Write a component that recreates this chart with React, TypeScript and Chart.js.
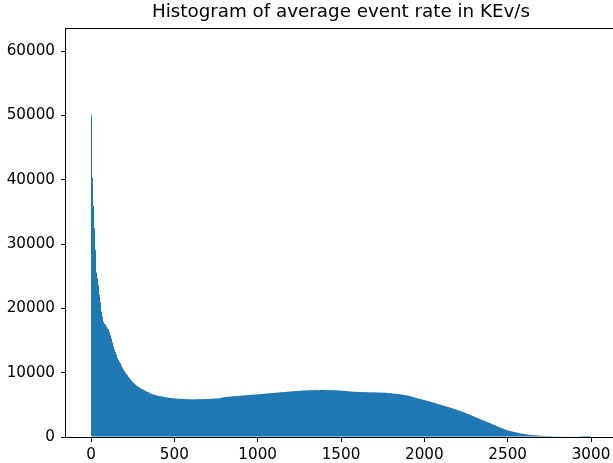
import React, { useEffect, useRef } from "react";
import { Chart, registerables } from "chart.js";

Chart.register(...registerables);

const TITLE = "Histogram of average event rate in KEv/s";
const BIN_START = 0;
const BIN_WIDTH = 6;
const X_TICK_VALUES = [0, 500, 1000, 1500, 2000, 2500, 3000];
const Y_TICK_VALUES = [0, 10000, 20000, 30000, 40000, 50000, 60000];

const counts: number[] = [
  50000, 40300, 35900, 32500, 29100, 25600, 24700, 23600, 22100, 21000,
  19500, 18700, 17900, 17600, 17500, 17200, 16900, 16700, 16300, 15800,
  15300, 14700, 14100, 13600, 13200, 12800, 12300, 12000, 11700, 11500,
  11100, 10800, 10500, 10300, 10000, 9800, 9600, 9350, 9150, 8950,
  8750, 8600, 8450, 8300, 8150, 8000, 7900, 7800, 7700, 7600,
  7500, 7420, 7350, 7250, 7180, 7100, 7020, 6950, 6880, 6750,
  6700, 6650, 6600, 6560, 6520, 6480, 6440, 6410, 6380, 6350,
  6320, 6290, 6250, 6220, 6200, 6170, 6130, 6110, 6090, 6070,
  6050, 6030, 6020, 6000, 5990, 5980, 5960, 5950, 5940, 5950,
  5930, 5900, 5940, 5910, 5880, 5920, 5860, 5900, 5870, 5850,
  5890, 5860, 5880, 5830, 5870, 5900, 5850, 5880, 5900, 5870,
  5890, 5920, 5880, 5900, 5930, 5890, 5920, 5950, 5910, 5940,
  5960, 5930, 5980, 6000, 5970, 6010, 5990, 6040, 6020, 6060,
  6100, 6150, 6180, 6200, 6230, 6220, 6260, 6240, 6280, 6300,
  6290, 6320, 6340, 6330, 6360, 6380, 6370, 6400, 6390, 6420,
  6440, 6430, 6460, 6480, 6470, 6500, 6520, 6510, 6540, 6560,
  6550, 6580, 6600, 6590, 6620, 6610, 6640, 6660, 6650, 6680,
  6700, 6690, 6720, 6740, 6730, 6760, 6780, 6770, 6800, 6820,
  6830, 6850, 6840, 6870, 6890, 6880, 6910, 6930, 6920, 6950,
  6970, 6960, 6990, 7010, 7000, 7030, 7050, 7040, 7070, 7090,
  7080, 7110, 7100, 7130, 7150, 7140, 7170, 7160, 7190, 7200,
  7210, 7190, 7230, 7250, 7220, 7260, 7240, 7280, 7250, 7270,
  7300, 7260, 7310, 7280, 7320, 7290, 7330, 7300, 7280, 7320,
  7350, 7300, 7330, 7290, 7340, 7310, 7280, 7320, 7300, 7270,
  7310, 7280, 7260, 7300, 7250, 7270, 7230, 7260, 7220, 7200,
  7230, 7190, 7160, 7180, 7140, 7120, 7150, 7100, 7080, 7060,
  7080, 7040, 7060, 7020, 7050, 7000, 7030, 6990, 7020, 6980,
  7010, 6970, 7000, 6960, 6990, 6950, 6980, 6940, 6970, 6950,
  6930, 6960, 6920, 6950, 6940, 6910, 6940, 6900, 6930, 6910,
  6890, 6920, 6880, 6900, 6860, 6880, 6840, 6850, 6810, 6800,
  6780, 6790, 6750, 6740, 6720, 6700, 6690, 6670, 6660, 6640,
  6600, 6580, 6560, 6520, 6500, 6480, 6450, 6430, 6380, 6330,
  6280, 6240, 6200, 6160, 6100, 6060, 6010, 5970, 5930, 5900,
  5860, 5820, 5780, 5740, 5700, 5660, 5620, 5580, 5530, 5490,
  5440, 5400, 5350, 5300, 5250, 5200, 5160, 5110, 5060, 5020,
  4970, 4930, 4880, 4840, 4790, 4750, 4700, 4660, 4610, 4560,
  4510, 4460, 4410, 4360, 4300, 4250, 4200, 4150, 4090, 4040,
  3980, 3920, 3860, 3800, 3740, 3680, 3620, 3560, 3490, 3420,
  3360, 3290, 3220, 3160, 3090, 3020, 2960, 2890, 2820, 2750,
  2690, 2630, 2570, 2510, 2440, 2380, 2320, 2260, 2190, 2130,
  2060, 1990, 1920, 1850, 1780, 1720, 1650, 1580, 1520, 1450,
  1390, 1330, 1270, 1210, 1160, 1100, 1050, 1000, 960, 930,
  890, 850, 810, 780, 740, 710, 670, 640, 600, 570,
  540, 510, 480, 460, 430, 410, 380, 360, 330, 310,
  300, 290, 280, 270, 260, 250, 240, 230, 210, 200,
  190, 180, 170, 165, 160, 150, 145, 140, 130, 120,
  118, 115, 112, 110, 108, 105, 103, 100, 100, 98,
  96, 95, 93, 92, 90, 88, 86, 84, 82, 80,
  78, 75, 72, 70, 66, 62, 58, 50, 30, 20,
  15, 12, 10, 8, 6, 5, 4, 3, 2, 1,
];

const X_MIN = -150;
const X_MAX = 3150;
const Y_MAX = 63450;

const FONT = "'DejaVu Sans', sans-serif";

const framePlugin = {
  id: "frame",
  afterDraw(chart: any) {
    const { ctx, chartArea } = chart;
    ctx.save();
    ctx.strokeStyle = "#000";
    ctx.lineWidth = 1;
    ctx.strokeRect(
      Math.round(chartArea.left) - 0.5,
      Math.round(chartArea.top) - 0.5,
      Math.round(chartArea.right - chartArea.left) + 1,
      Math.round(chartArea.bottom - chartArea.top) + 1
    );
    ctx.restore();
  },
};

export default function App() {
  const ref = useRef<HTMLCanvasElement | null>(null);

  useEffect(() => {
    if (!ref.current) return;
    const points = counts.map((c, i) => ({
      x: BIN_START + BIN_WIDTH * (i + 0.5),
      y: c,
    }));
    const chart = new Chart(ref.current, {
      type: "bar",
      data: {
        datasets: [
          {
            data: points as any,
            backgroundColor: "#1f77b4",
            borderWidth: 0,
            barPercentage: 1.02,
            categoryPercentage: 1,
            grouped: false,
            inflateAmount: 0,
          } as any,
        ],
      },
      options: {
        animation: false,
        responsive: false,
        devicePixelRatio: 1,
        layout: { padding: { top: 0, left: 0, right: 24, bottom: 0 } },
        plugins: {
          legend: { display: false },
          tooltip: { enabled: false },
          title: {
            display: true,
            text: TITLE,
            fullSize: false,
            color: "#000",
            font: { family: FONT, size: 18.3, weight: "normal", lineHeight: 1.2 },
            padding: { top: 1, bottom: 6 },
          },
        },
        scales: {
          x: {
            type: "linear",
            min: X_MIN,
            max: X_MAX,
            bounds: "data",
            offset: false,
            afterFit: (s: any) => {
              s.height = 26;
            },
            afterBuildTicks: (s: any) => {
              s.ticks = X_TICK_VALUES.map((v) => ({ value: v }));
            },
            grid: {
              display: true,
              offset: false,
              drawOnChartArea: false,
              drawTicks: true,
              tickLength: 5,
              color: "#000",
              lineWidth: 1,
            },
            border: { display: false },
            ticks: {
              color: "#000",
              font: { family: FONT, size: 15.2 },
              padding: 4,
              maxRotation: 0,
              autoSkip: false,
              callback: (v: any) => String(v),
            },
          },
          y: {
            type: "linear",
            min: 0,
            max: Y_MAX,
            bounds: "data",
            afterFit: (s: any) => {
              s.width = 66;
            },
            afterBuildTicks: (s: any) => {
              s.ticks = Y_TICK_VALUES.map((v) => ({ value: v }));
            },
            grid: {
              display: true,
              offset: false,
              drawOnChartArea: false,
              drawTicks: true,
              tickLength: 5,
              color: "#000",
              lineWidth: 1,
            },
            border: { display: false },
            ticks: {
              color: "#000",
              font: { family: FONT, size: 15.2 },
              padding: 6,
              autoSkip: false,
              callback: (v: any) => String(v),
            },
          },
        },
      },
      plugins: [framePlugin],
    });
    return () => chart.destroy();
  }, []);

  return (
    <div
      style={{
        position: "fixed",
        left: 0,
        top: 0,
        width: 613,
        height: 463,
        overflow: "hidden",
        background: "#fff",
      }}
    >
      <canvas ref={ref} width={640} height={463} style={{ display: "block" }} />
    </div>
  );
}
